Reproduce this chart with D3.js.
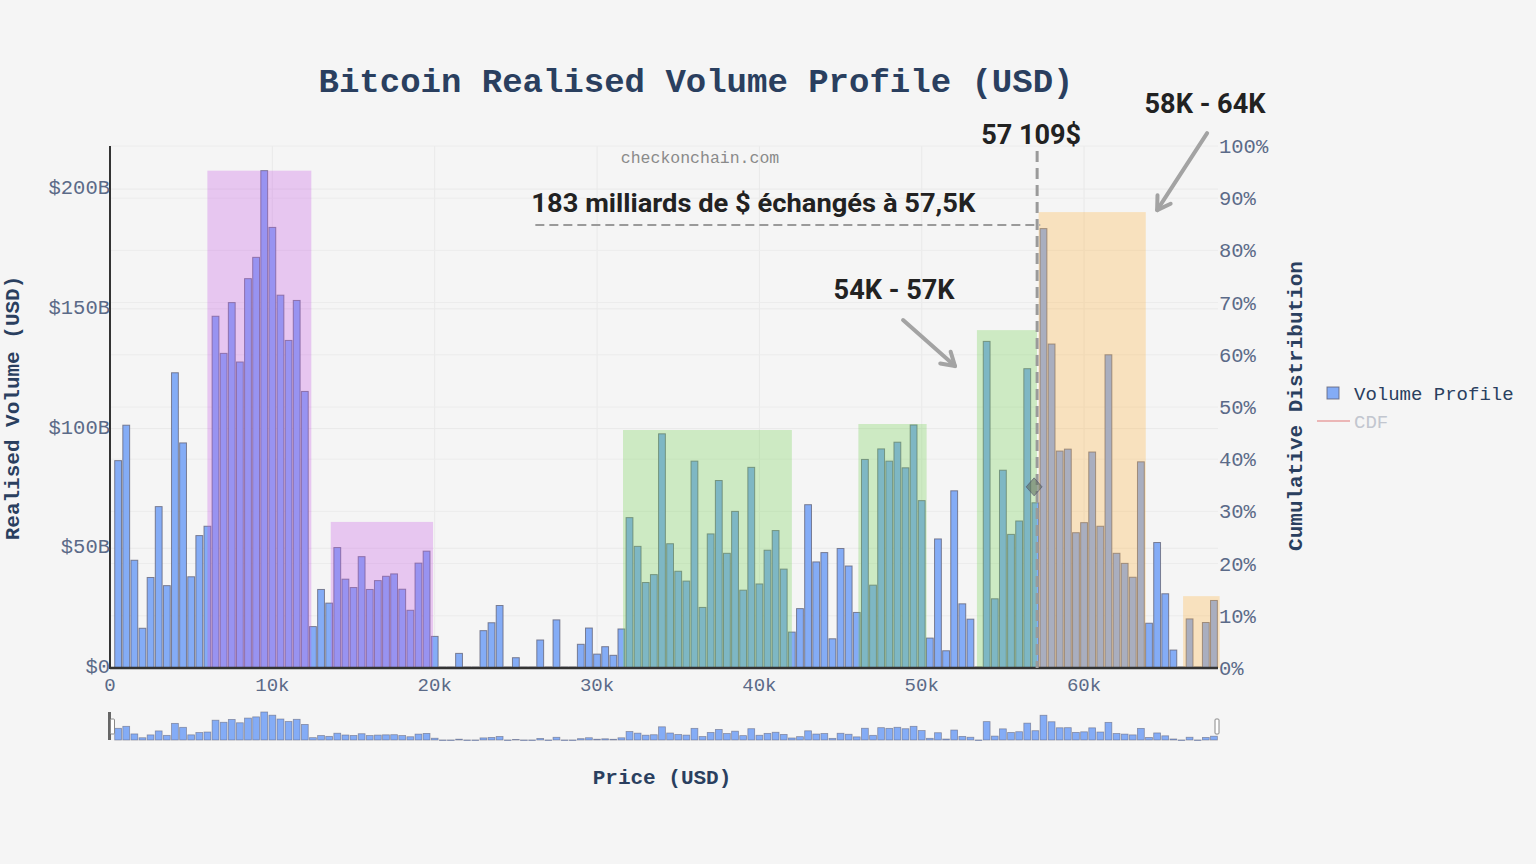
<!DOCTYPE html>
<html>
<head>
<meta charset="utf-8">
<script src="https://cdn.jsdelivr.net/npm/d3@7/dist/d3.min.js"></script>
<style>
html,body{margin:0;padding:0;background:#f5f5f5;}
svg{display:block;}
</style>
</head>
<body>
<svg id="chart" width="1536" height="864"></svg>
<script>
// ---------- DATA ----------
const prices = [
  500,1000,1500,2000,2500,3000,3500,4000,4500,5000,5500,6000,6500,7000,7500,8000,8500,9000,9500,10000,
  10500,11000,11500,12000,12500,13000,13500,14000,14500,15000,15500,16000,16500,17000,17500,18000,18500,19000,19500,20000,
  20500,21000,21500,22000,22500,23000,23500,24000,24500,25000,25500,26000,26500,27000,27500,28000,28500,29000,29500,30000,
  30500,31000,31500,32000,32500,33000,33500,34000,34500,35000,35500,36000,36500,37000,37500,38000,38500,39000,39500,40000,
  40500,41000,41500,42000,42500,43000,43500,44000,44500,45000,45500,46000,46500,47000,47500,48000,48500,49000,49500,50000,
  50500,51000,51500,52000,52500,53000,53500,54000,54500,55000,55500,56000,56500,57000,57500,58000,58500,59000,59500,60000,
  60500,61000,61500,62000,62500,63000,63500,64000,64500,65000,65500,66000,66500,67000,67500,68000
];
// Realised volume per price bin, billions USD
const volumeB = [
  86.6,101.4,45,16.6,37.8,67.4,34.4,123.3,94,38.1,55.3,59.2,146.9,131.4,152.6,127.8,162.6,171.5,207.7,184,
  155.7,136.8,153.5,115.5,17.3,32.8,27.1,50.3,37.1,33.6,46.5,32.8,36.5,38.3,39.3,32.9,24.1,43.8,48.8,13.2,
  0.4,0.4,6.1,0.4,0.4,15.6,18.9,26.1,0.4,4.3,0.4,0.4,11.7,0.4,20.1,0.4,0.4,9.9,16.7,5.8,
  8.9,5.3,16.3,62.8,50.8,35.7,39,97.8,51.9,40.4,36.3,86.4,25.3,56,78.3,47.9,65.4,32.5,83.8,35.1,
  49.2,57.4,41.3,15,24.8,68.2,44.3,48.2,12.2,49.9,42.6,23.2,87.1,34.6,91.5,86.4,94.3,83.6,101.5,69.9,
  12.5,53.9,7.2,74,26.8,20.4,0.4,136.4,28.9,82.6,55.8,61.4,125,69,183.5,135.3,90.6,91.4,56.5,60.7,
  90.2,59.2,130.8,47.9,43.7,37.9,86.1,18.7,52.4,31,7.5,0.4,20.5,0.4,19,28.2
];
const xTicks = [0,10000,20000,30000,40000,50000,60000];
const xTickLabels = ["0","10k","20k","30k","40k","50k","60k"];
const yTicks = [0,50,100,150,200];
const yTickLabels = ["$0","$50B","$100B","$150B","$200B"];
const y2Ticks = [0,0.1,0.2,0.3,0.4,0.5,0.6,0.7,0.8,0.9,1.0];
const y2TickLabels = ["0%","10%","20%","30%","40%","50%","60%","70%","80%","90%","100%"];

// highlighted zones: [x0, x1, top (B), kind]
const zoneX0 = [6000, 13600, 31600, 46100, 53400, 57200, 66100];
const zoneX1 = [12400, 19900, 42000, 50300, 57100, 63800, 68350];
const zoneTop = [207.7, 61, 99.4, 101.9, 141.1, 190.4, 30];
const zoneKind = ["purple","purple","green","green","green","orange","orange"];

const markPrice = 57109;      // vertical dashed line
const markVolume = 185;       // horizontal dashed line level (B)
const markCdf = 0.347;        // CDF marker at the price line

// ---------- LAYOUT ----------
const W = 1536, H = 864;
const L = 110, R = 1218, T = 146, B = 668;
const svg = d3.select("#chart");
const FONT = "'Liberation Mono','Courier New',monospace";
const ANN = "Roboto, 'Liberation Sans', sans-serif";

const x = d3.scaleLinear().domain([0, 68250]).range([L, R]);
const y = d3.scaleLinear().domain([0, 218]).range([B, T]);
const y2 = d3.scaleLinear().domain([0, 1]).range([B, T]);

svg.append("rect").attr("width", W).attr("height", H).attr("fill", "#f5f5f5");

// grid
const grid = svg.append("g");
grid.selectAll(".gx").data(xTicks.slice(1)).join("line")
  .attr("x1", d => x(d)).attr("x2", d => x(d)).attr("y1", T).attr("y2", B)
  .attr("stroke", "#e9e9e9").attr("stroke-width", 1);
grid.selectAll(".gy").data(yTicks.slice(1)).join("line")
  .attr("x1", L).attr("x2", R).attr("y1", d => y(d)).attr("y2", d => y(d))
  .attr("stroke", "#e9e9e9").attr("stroke-width", 1);
grid.selectAll(".gy2").data(y2Ticks.slice(1)).join("line")
  .attr("x1", L).attr("x2", R).attr("y1", d => y2(d)).attr("y2", d => y2(d))
  .attr("stroke", "#ececec").attr("stroke-width", 1);

// watermark
svg.append("text").attr("x", 700).attr("y", 163).attr("text-anchor", "middle")
  .attr("font-family", FONT).attr("font-size", 16.5).attr("fill", "#8a8a8a")
  .text("checkonchain.com");

// bars
const pitch = x(500) - x(0);
const bw = pitch * 0.84;
const data = prices.map((p, i) => ({p, v: volumeB[i]}));
svg.append("g").selectAll("rect").data(data).join("rect")
  .attr("x", d => x(d.p) - bw / 2).attr("width", bw)
  .attr("y", d => y(d.v)).attr("height", d => B - y(d.v))
  .attr("fill", "rgb(132,172,246)").attr("stroke", "rgba(95,95,115,0.75)").attr("stroke-width", 1);

// zones (drawn above bars)
const zoneColor = {purple: "rgba(200,90,230,0.3)", green: "rgba(114,207,81,0.3)", orange: "rgba(255,180,64,0.3)"};
svg.append("g").selectAll("rect").data(zoneX0.map((d, i) => i)).join("rect")
  .attr("x", i => x(zoneX0[i])).attr("width", i => x(zoneX1[i]) - x(zoneX0[i]))
  .attr("y", i => y(zoneTop[i])).attr("height", i => B - y(zoneTop[i]))
  .attr("fill", i => zoneColor[zoneKind[i]]);

// axes lines
svg.append("line").attr("x1", L).attr("x2", L).attr("y1", T).attr("y2", B + 1)
  .attr("stroke", "#333").attr("stroke-width", 2);
svg.append("line").attr("x1", L).attr("x2", R).attr("y1", B).attr("y2", B)
  .attr("stroke", "#333").attr("stroke-width", 2.5);

// tick labels
const tickColor = "#5b6a88";
svg.append("g").selectAll("text").data(xTicks).join("text")
  .attr("x", d => x(d)).attr("y", 691).attr("text-anchor", "middle")
  .attr("font-family", FONT).attr("font-size", 19).attr("fill", tickColor)
  .text((d, i) => xTickLabels[i]);
svg.append("g").selectAll("text").data(yTicks).join("text")
  .attr("x", L).attr("y", d => y(d) + 5).attr("text-anchor", "end")
  .attr("font-family", FONT).attr("font-size", 20.5).attr("fill", tickColor)
  .text((d, i) => yTickLabels[i]);
svg.append("g").selectAll("text").data(y2Ticks).join("text")
  .attr("x", R + 1).attr("y", d => y2(d) + 7).attr("text-anchor", "start")
  .attr("font-family", FONT).attr("font-size", 20.5).attr("fill", tickColor)
  .text((d, i) => y2TickLabels[i]);

// titles
const titleColor = "#2a3f5f";
svg.append("text").attr("x", 696).attr("y", 92).attr("text-anchor", "middle")
  .attr("font-family", FONT).attr("font-weight", "bold").attr("font-size", 34).attr("fill", titleColor)
  .text("Bitcoin Realised Volume Profile (USD)");
svg.append("text").attr("transform", "translate(19,408) rotate(-90)").attr("text-anchor", "middle")
  .attr("font-family", FONT).attr("font-weight", "bold").attr("font-size", 21).attr("fill", titleColor)
  .text("Realised Volume (USD)");
svg.append("text").attr("transform", "translate(1302,406) rotate(-90)").attr("text-anchor", "middle")
  .attr("font-family", FONT).attr("font-weight", "bold").attr("font-size", 21).attr("fill", titleColor)
  .text("Cumulative Distribution");
svg.append("text").attr("x", 662).attr("y", 784).attr("text-anchor", "middle")
  .attr("font-family", FONT).attr("font-weight", "bold").attr("font-size", 21).attr("fill", titleColor)
  .text("Price (USD)");

// legend
svg.append("rect").attr("x", 1327).attr("y", 387).attr("width", 12).attr("height", 12)
  .attr("fill", "rgb(132,172,246)").attr("stroke", "rgba(95,95,115,0.8)").attr("stroke-width", 1);
svg.append("text").attr("x", 1354).attr("y", 400).attr("font-family", FONT).attr("font-size", 19)
  .attr("fill", titleColor).text("Volume Profile");
svg.append("line").attr("x1", 1317).attr("x2", 1350).attr("y1", 421).attr("y2", 421)
  .attr("stroke", "rgba(225,120,120,0.5)").attr("stroke-width", 2);
svg.append("text").attr("x", 1354).attr("y", 428).attr("font-family", FONT).attr("font-size", 19)
  .attr("fill", "#c2c6cf").text("CDF");

// dashed reference lines
svg.append("line").attr("x1", x(markPrice)).attr("x2", x(markPrice)).attr("y1", 151).attr("y2", B)
  .attr("stroke", "#9a9a9a").attr("stroke-width", 3).attr("stroke-dasharray", "11,6");
svg.append("line").attr("x1", x(26200)).attr("x2", x(57300)).attr("y1", y(markVolume)).attr("y2", y(markVolume))
  .attr("stroke", "#9a9a9a").attr("stroke-width", 2).attr("stroke-dasharray", "9,5");

// CDF marker
const mx = x(markPrice) - 3, my = y2(markCdf);
svg.append("path").attr("d", `M${mx},${my - 9} L${mx + 8},${my} L${mx},${my + 9} L${mx - 8},${my} Z`)
  .attr("fill", "rgba(95,110,95,0.6)").attr("stroke", "rgba(80,80,110,0.6)").attr("stroke-width", 1);

// annotations
const annColor = "#222";
function ann(txt, px, vy, size, len) {
  svg.append("text").attr("x", x(px)).attr("y", y(vy)).attr("text-anchor", "middle")
    .attr("font-family", ANN).attr("font-weight", "bold").attr("font-size", size).attr("fill", annColor)
    .attr("textLength", len).attr("lengthAdjust", "spacingAndGlyphs").text(txt);
}
ann("183 milliards de $ échangés à 57,5K", 39630, 190.3, 26, 444);
ann("57 109$", 56740, 218.8, 27, 100);
ann("58K - 64K", 67450, 231.7, 27, 121);
ann("54K - 57K", 48300, 154.3, 27, 121);

// arrows
function arrow(p0, v0, p1, v1) {
  const x0 = x(p0), y0 = y(v0), x1 = x(p1), y1 = y(v1);
  const a = Math.atan2(y1 - y0, x1 - x0), hl = 15, ha = 0.55;
  svg.append("line").attr("x1", x0).attr("y1", y0).attr("x2", x1).attr("y2", y1)
    .attr("stroke", "#a3a3a3").attr("stroke-width", 4).attr("stroke-linecap", "round");
  svg.append("path")
    .attr("d", `M${x1 - hl * Math.cos(a - ha)},${y1 - hl * Math.sin(a - ha)} L${x1},${y1} L${x1 - hl * Math.cos(a + ha)},${y1 - hl * Math.sin(a + ha)}`)
    .attr("fill", "none").attr("stroke", "#a3a3a3").attr("stroke-width", 4).attr("stroke-linecap", "round").attr("stroke-linejoin", "round");
}
arrow(48850, 145.3, 52050, 126.1);
arrow(67580, 223.4, 64500, 191.2);

// range slider
const sT = 712, sB = 740;
const ys = d3.scaleLinear().domain([0, d3.max(volumeB)]).range([sB, sT]);
svg.append("g").selectAll("rect").data(data).join("rect")
  .attr("x", d => x(d.p) - bw / 2).attr("width", bw)
  .attr("y", d => ys(d.v)).attr("height", d => Math.max(0.6, sB - ys(d.v)))
  .attr("fill", "rgb(132,172,246)").attr("stroke", "rgba(95,95,115,0.6)").attr("stroke-width", 0.8);
svg.append("rect").attr("x", L - 2).attr("y", sT).attr("width", 3).attr("height", sB - sT).attr("fill", "#666");
svg.append("rect").attr("x", L + 0.5).attr("y", 719).attr("width", 4).attr("height", 15)
  .attr("fill", "#fff").attr("stroke", "#888").attr("stroke-width", 1).attr("rx", 1);
svg.append("rect").attr("x", R - 3).attr("y", 719).attr("width", 4).attr("height", 15)
  .attr("fill", "#fff").attr("stroke", "#888").attr("stroke-width", 1).attr("rx", 1);
</script>
</body>
</html>
